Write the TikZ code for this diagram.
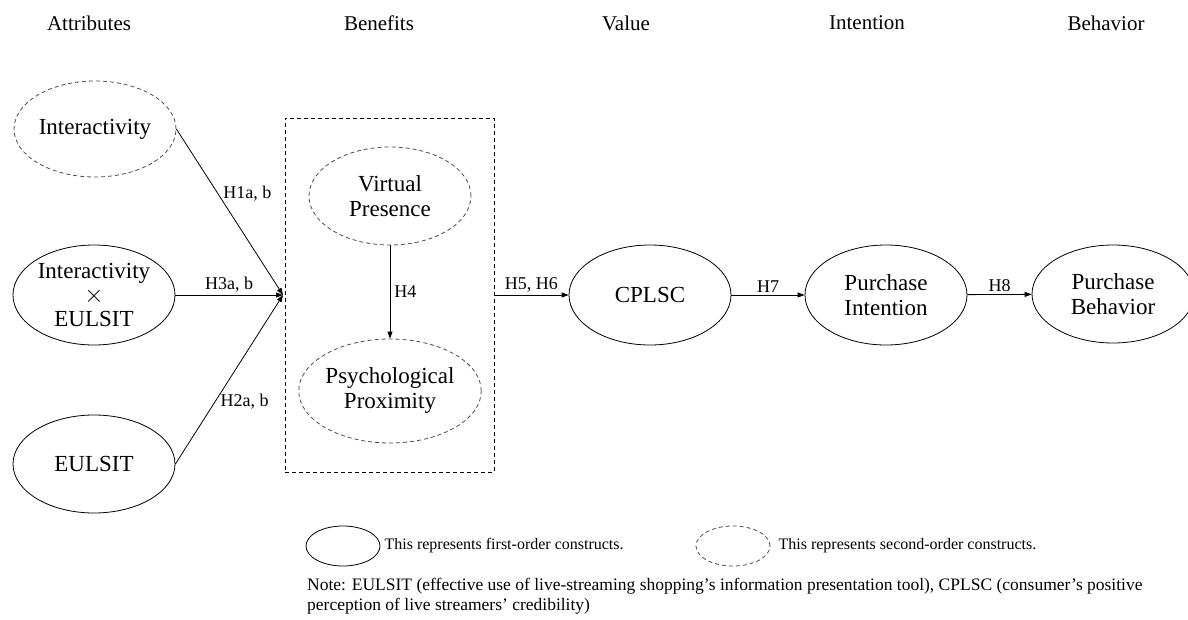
\documentclass[tikz,border=0pt]{standalone}
\usepackage{fontspec}
\setmainfont{Liberation Serif}
\usetikzlibrary{shapes.geometric}
\usetikzlibrary{arrows.meta, positioning}

\begin{document}
\begin{tikzpicture}[
			x=1pt, y=-1pt,
			every node/.style={
					font=\fontsize{23}{25}\selectfont,
					align=center
				},
			construct/.style={
					draw,
					ellipse,
					line width=0.8pt,
					inner sep=0pt,
					minimum width=162pt,
					minimum height=100pt
				},
			secondorder/.style={
					construct,
					draw=black!70,
					dash pattern=on 4pt off 3pt
				},
			link/.style={line width=0.8pt, -{Triangle[length=7pt, width=5pt]}},
			hyp/.style={font=\fontsize{18}{20}\selectfont, inner sep=2pt},
			heading/.style={font=\fontsize{21}{23}\selectfont},
			legend/.style={font=\fontsize{16}{20}\selectfont, align=left, inner sep=0pt}
		]
		\useasboundingbox (0, 0) rectangle (1188, 620);

		% column headings
		\node[heading] (t0) at (89, 23) {Attributes};
		\node[heading] (t1) at (379, 23) {Benefits};
		\node[heading] (t2) at (626, 23) {Value};
		\node[heading] (t3) at (867, 23) {Intention};
		\node[heading] (t4) at (1106, 23) {Behavior};

		% attributes
		\node[secondorder, minimum height=96pt] (inter) at (95, 129) {Interactivity};
		\node[construct] (mod) at (94, 295) {Interactivity\\[-1pt]$\times$\\[-1pt]EULSIT};
		\node[construct, minimum height=98pt] (eulsit) at (94, 464) {EULSIT};

		% benefits
		\node[draw, dash pattern=on 4pt off 3pt, line width=0.7pt, minimum width=209pt,
			minimum height=354pt, inner sep=0pt] (box) at (389.5, 295) {};
		\node[secondorder, minimum height=98pt] (vp) at (390, 196) {Virtual\\Presence};
		\node[secondorder, minimum height=104pt] (pp) at (390, 391) {Psychological\\Proximity};
		\coordinate (hub) at (283, 295);

		% value, intention, behavior
		\node[construct] (cplsc) at (650, 295) {CPLSC};
		\node[construct] (pi) at (886, 295) {Purchase\\Intention};
		\node[construct, minimum height=98pt] (pb) at (1113, 294) {Purchase\\Behavior};

		% hypotheses
		\draw[link] (inter.east) -- (hub) node[hyp, pos=0.39, right=3pt] {H1a, b};
		\draw[link] (mod.east) -- (hub) node[hyp, midway, above] {H3a, b};
		\draw[link] (eulsit.east) -- (hub) node[hyp, pos=0.37, right=3pt] {H2a, b};
		\draw[link] (vp) -- (pp) node[hyp, midway, right=2pt] {H4};
		\draw[link] (box.east) -- (cplsc) node[hyp, midway, above] {H5, H6};
		\draw[link] (cplsc) -- (pi) node[hyp, midway, above] {H7};
		\draw[link] (pi) -- (pb) node[hyp, midway, above] {H8};

		% legend
		\node[construct, minimum width=74pt, minimum height=40pt] (key1) at (343, 546) {};
		\node[legend, right=4pt of key1] (lab1) {This represents first-order constructs.};
		\node[secondorder, minimum width=74pt, minimum height=40pt] (key2) at (733, 546) {};
		\node[legend, right=8pt of key2] (lab2) {This represents second-order constructs.};
		\node[legend, font=\fontsize{17.5}{20}\selectfont, anchor=north west] (note) at (307, 578)
		{Note: EULSIT (effective use of live-streaming shopping's information presentation tool), CPLSC (consumer's positive\\
			perception of live streamers' credibility)};
	\end{tikzpicture}
\end{document}
